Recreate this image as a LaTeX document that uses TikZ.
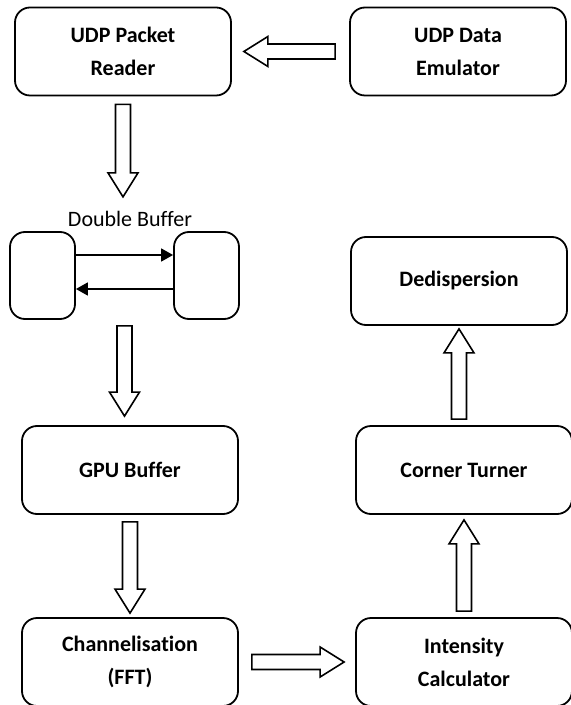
\documentclass[tikz,border=0pt]{standalone}
\usepackage{fontspec}
\setmainfont{Carlito}[Ligatures=NoCommon]
\usetikzlibrary{calc,arrows.meta}

% hollow block arrow from #1 to #2, gaps #3 (tail) and #4 (tip)
\newcommand{\fatarrow}[4]{%
	\coordinate (fa-t) at ($(#1)!#3!(#2)$);
	\coordinate (fa-h) at ($(#2)!#4!(#1)$);
	\coordinate (fa-b) at ($(fa-h)!12pt!(fa-t)$);
	\draw[fatarrow] ($(fa-t)!3.75pt!90:(fa-h)$) -- ($(fa-b)!3.75pt!90:(fa-h)$) -- ($(fa-b)!7.5pt!90:(fa-h)$) -- (fa-h)
		-- ($(fa-b)!7.5pt!-90:(fa-h)$) -- ($(fa-b)!3.75pt!-90:(fa-h)$) -- ($(fa-t)!3.75pt!-90:(fa-h)$) -- cycle;
}

\begin{document}
\begin{tikzpicture}[x=0.5pt, y=-0.5pt,
		block/.style={draw, rounded corners=7.5pt, line width=0.9pt, minimum width=108pt, minimum height=44pt, align=center, font=\fontsize{11}{16.5}\selectfont\bfseries},
		bufbox/.style={draw, rounded corners=7.5pt, line width=0.9pt, minimum width=32.5pt, minimum height=43.5pt},
		fatarrow/.style={draw, line width=0.8pt, line join=miter, fill=white},
		thinarrow/.style={-{Triangle[length=6pt,width=6.5pt]}, line width=0.8pt}]
	\useasboundingbox (0,0) rectangle (570,705);

	\node[block] (reader) at (123,51.5) {UDP Packet\\Reader};
	\node[block] (emulator) at (458,51.5) {UDP Data\\Emulator};

	\node[inner sep=0pt, font=\fontsize{11}{13}\selectfont] (dbtitle) at (130,219) {Double Buffer};
	\node[bufbox] (dbl) at (42.5,275.5) {};
	\node[bufbox] (dbr) at (206.5,275.5) {};
	\coordinate (dbmid) at ($(dbl.south)!0.5!(dbr.south)$);

	\node[block] (dedisp) at (459,281) {Dedispersion};
	\node[block] (gpu) at (130,470) {GPU Buffer};
	\node[block] (corner) at (464,470) {Corner Turner};
	\node[block] (chan) at (130,662) {Channelisation\\(FFT)};
	\node[block] (intens) at (464,662) {Intensity\\Calculator};

	\draw[thinarrow] ([yshift=10.25pt]dbl.east) -- ([yshift=10.25pt]dbr.west); % left to right buffer
	\draw[thinarrow] ([yshift=-6.75pt]dbr.west) -- ([yshift=-6.75pt]dbl.east); % right to left buffer

	\fatarrow{emulator.west}{reader.east}{7pt}{6pt} % emulator to reader
	\fatarrow{reader.south}{reader.south |- dbtitle.north}{4pt}{7pt} % reader to buffer
	\fatarrow{dbmid}{dbmid |- gpu.north}{3pt}{4.5pt} % buffer to gpu
	\fatarrow{gpu.south}{chan.north}{3.5pt}{2pt} % gpu to fft
	\fatarrow{chan.east}{intens.west}{6.5pt}{5.5pt} % fft to intensity
	\fatarrow{intens.north}{corner.south}{3pt}{2.5pt} % intensity to corner turner
	\fatarrow{dedisp.south |- corner.north}{dedisp.south}{3pt}{1.5pt} % corner turner to dedispersion
\end{tikzpicture}
\end{document}
